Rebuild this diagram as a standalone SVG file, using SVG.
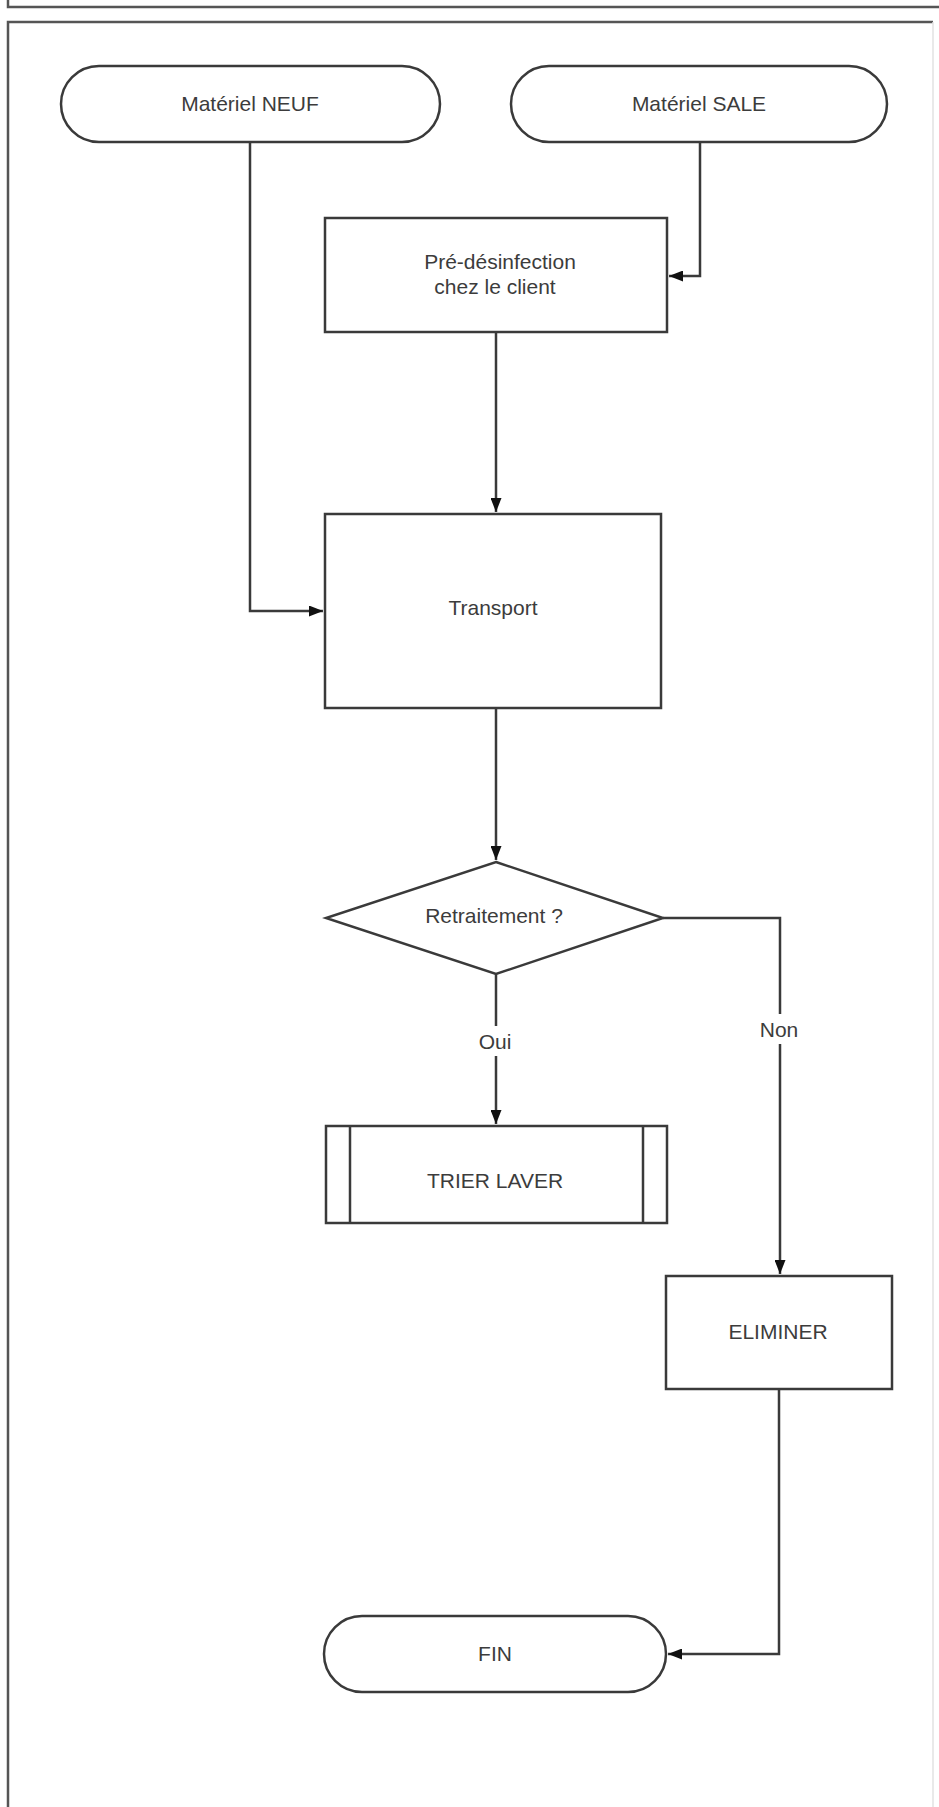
<svg xmlns="http://www.w3.org/2000/svg" width="939" height="1807" viewBox="0 0 939 1807">
<style>
.shape{fill:#fff;stroke:#3a3a3a;stroke-width:2.5}
.conn{fill:none;stroke:#3a3a3a;stroke-width:2.5}
.lbl{font-family:"Liberation Sans",Arial,sans-serif;font-size:21px;fill:#3c3c3c;text-anchor:middle}
.bg{fill:#fff;stroke:none}
</style>
<defs>
<marker id="arr" viewBox="0 0 14 11" refX="14" refY="5.5" markerWidth="14" markerHeight="11" markerUnits="userSpaceOnUse" orient="auto">
<path d="M0,0 L14,5.5 L0,11 Z" fill="#111"/>
</marker>
</defs>
<rect width="939" height="1807" fill="#fff"/>
<g id="frame">
<path d="M8,-2 V7 H941" fill="none" stroke="#555" stroke-width="2.5"/>
<path d="M8,1809 V22 H933" fill="none" stroke="#555" stroke-width="2.5"/>
<path d="M933,22 V1809" fill="none" stroke="#e2e2e2" stroke-width="1.5"/>
</g>
<g id="connectors">
<path class="conn" d="M250,142 V611 H323" marker-end="url(#arr)"/>
<path class="conn" d="M700,142 V276 H669" marker-end="url(#arr)"/>
<path class="conn" d="M496,332 V512" marker-end="url(#arr)"/>
<path class="conn" d="M496,708 V860" marker-end="url(#arr)"/>
<path class="conn" d="M496,974 V1124" marker-end="url(#arr)"/>
<path class="conn" d="M663,918 H780 V1274" marker-end="url(#arr)"/>
<path class="conn" d="M779,1389 V1654 H668" marker-end="url(#arr)"/>
<rect class="bg" x="476" y="1026" width="40" height="30"/>
<text class="lbl" x="495" y="1049">Oui</text>
<rect class="bg" x="758" y="1014" width="44" height="30"/>
<text class="lbl" x="779" y="1037">Non</text>
</g>
<g id="neuf">
<rect class="shape" x="61" y="66" width="379" height="76" rx="38" ry="38"/>
<text class="lbl" x="250" y="111">Matériel NEUF</text>
</g>
<g id="sale">
<rect class="shape" x="511" y="66" width="376" height="76" rx="38" ry="38"/>
<text class="lbl" x="699" y="111">Matériel SALE</text>
</g>
<g id="predesinfection">
<rect class="shape" x="325" y="218" width="342" height="114"/>
<text class="lbl" x="500" y="269">Pré-désinfection</text>
<text class="lbl" x="495" y="294">chez le client</text>
</g>
<g id="transport">
<rect class="shape" x="325" y="514" width="336" height="194"/>
<text class="lbl" x="493" y="615">Transport</text>
</g>
<g id="retraitement">
<polygon class="shape" points="496,862 663,918 496,974 326,918"/>
<text class="lbl" x="494" y="923">Retraitement ?</text>
</g>
<g id="trier">
<rect class="shape" x="326" y="1126" width="341" height="97"/>
<line class="conn" x1="350" y1="1126" x2="350" y2="1223"/>
<line class="conn" x1="643" y1="1126" x2="643" y2="1223"/>
<text class="lbl" x="495" y="1188">TRIER LAVER</text>
</g>
<g id="eliminer">
<rect class="shape" x="666" y="1276" width="226" height="113"/>
<text class="lbl" x="778" y="1339">ELIMINER</text>
</g>
<g id="fin">
<rect class="shape" x="324" y="1616" width="342" height="76" rx="38" ry="38"/>
<text class="lbl" x="495" y="1661">FIN</text>
</g>
</svg>
